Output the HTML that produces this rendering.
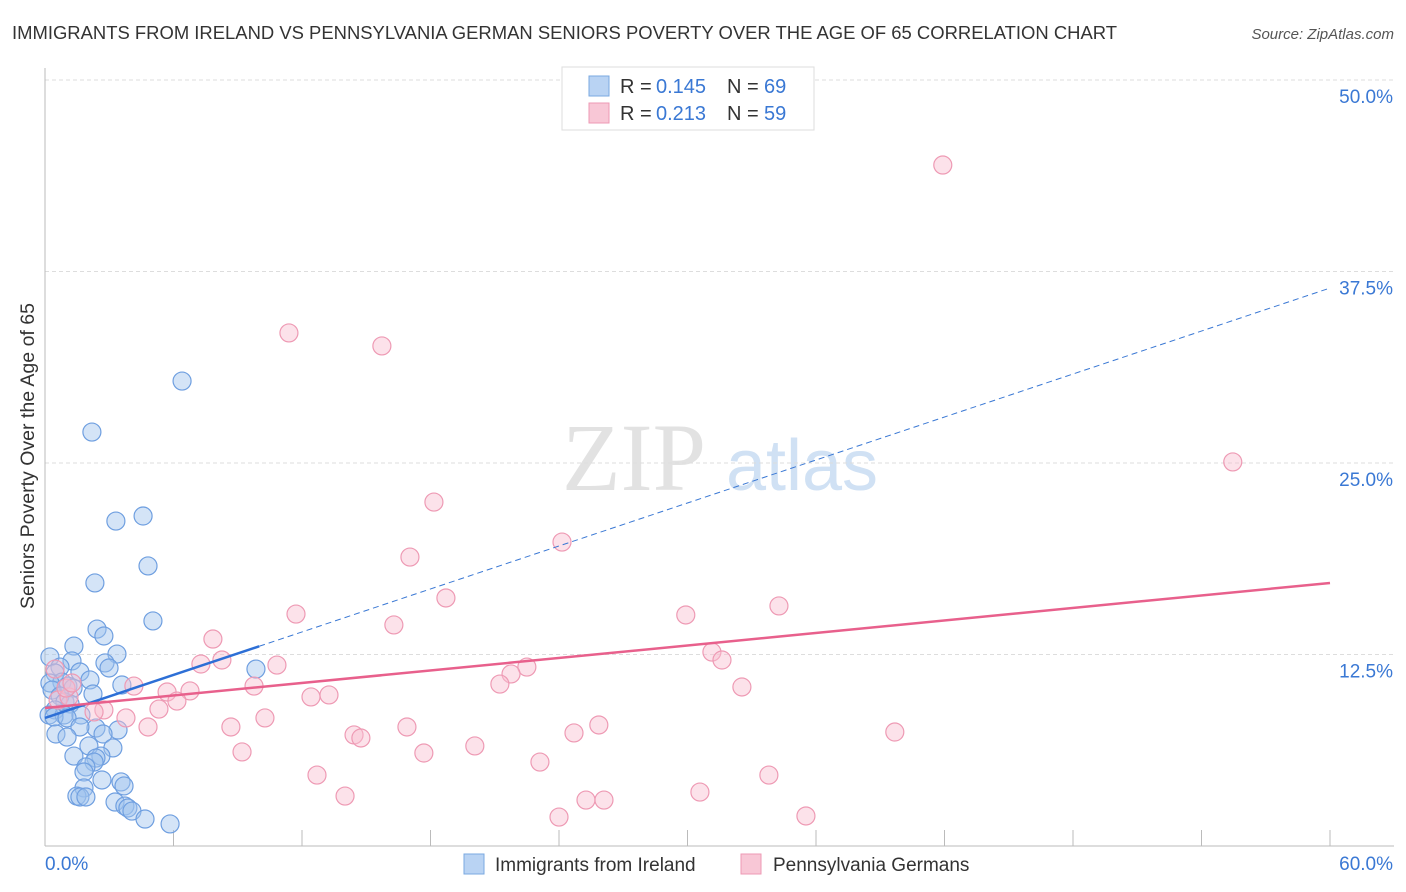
<!DOCTYPE html>
<html><head><meta charset="utf-8"><style>
body{margin:0;background:#fff;font-family:"Liberation Sans",sans-serif;}
svg{display:block}
</style></head><body>
<svg id="chart" width="1406" height="892">
<text x="12" y="39" font-size="18" fill="#333" textLength="1105" lengthAdjust="spacingAndGlyphs">IMMIGRANTS FROM IRELAND VS PENNSYLVANIA GERMAN SENIORS POVERTY OVER THE AGE OF 65 CORRELATION CHART</text>
<text x="1394" y="39" font-size="15" fill="#555" font-style="italic" text-anchor="end">Source: ZipAtlas.com</text>
<text x="634" y="490" font-size="96" fill="#e2e2e2" font-family="Liberation Serif,serif" text-anchor="middle">ZIP</text>
<text x="802" y="490" font-size="72" fill="#d0e1f4" text-anchor="middle">atlas</text>
<g id="grid"></g>
<g id="axes"></g>
<g id="marks"></g>
<text transform="translate(34,456) rotate(-90)" font-size="19" fill="#333" textLength="306" lengthAdjust="spacingAndGlyphs" text-anchor="middle">Seniors Poverty Over the Age of 65</text>
<g>
<rect x="562" y="67" width="252" height="63" fill="#fff" stroke="#ddd"/>
<rect x="589" y="76" width="20" height="20" fill="#b9d3f3" stroke="#7aa8e0"/>
<text y="93" font-size="20" fill="#333"><tspan x="620">R =</tspan><tspan x="656" fill="#3a78d4">0.145</tspan><tspan x="727">N =</tspan><tspan x="764" fill="#3a78d4">69</tspan></text>
<rect x="589" y="103" width="20" height="20" fill="#f8c7d6" stroke="#ee9ab4"/>
<text y="120" font-size="20" fill="#333"><tspan x="620">R =</tspan><tspan x="656" fill="#3a78d4">0.213</tspan><tspan x="727">N =</tspan><tspan x="764" fill="#3a78d4">59</tspan></text>
</g>
<g>
<rect x="464" y="854" width="20" height="20" fill="#b9d3f3" stroke="#7aa8e0"/>
<text x="495" y="871" font-size="19" fill="#333">Immigrants from Ireland</text>
<rect x="741" y="854" width="20" height="20" fill="#f8c7d6" stroke="#ee9ab4"/>
<text x="773" y="871" font-size="19" fill="#333">Pennsylvania Germans</text>
</g>
</svg>
<script>
const yTicks=[12.5,25,37.5,50];
const yTickLabels=["12.5%","25.0%","37.5%","50.0%"];
const xTicks=[0,6,12,18,24,30,36,42,48,54,60];
const blueX=[6.40,2.19,3.31,4.58,4.81,2.33,5.04,2.43,2.75,1.35,3.36,0.23,9.85,2.80,2.99,1.26,0.70,0.47,1.63,3.59,2.10,0.79,0.23,1.07,1.31,0.33,2.24,0.70,0.93,1.17,0.47,0.19,0.89,1.68,0.42,1.03,2.38,1.63,3.41,2.71,0.51,1.03,2.05,3.17,2.61,1.35,2.38,2.29,1.91,1.82,2.66,3.55,3.69,1.82,1.49,1.63,1.91,3.27,3.73,3.87,4.06,4.67,5.84];
const blueY=[30.35,27.02,21.21,21.54,18.28,17.17,14.69,14.16,13.71,13.05,12.53,12.34,11.55,11.95,11.62,12.08,11.68,11.29,11.36,10.51,10.84,10.70,10.64,10.44,10.31,10.18,9.92,9.79,9.40,9.27,8.88,8.55,8.55,8.55,8.42,8.36,7.70,7.77,7.57,7.31,7.31,7.11,6.53,6.40,5.87,5.87,5.74,5.48,5.16,4.83,4.31,4.18,3.92,3.79,3.26,3.20,3.20,2.87,2.61,2.48,2.28,1.76,1.44];
const pinkX=[41.92,11.39,15.73,55.46,18.16,24.14,17.04,18.72,34.27,11.72,29.92,16.29,7.84,31.14,8.26,7.28,31.61,10.83,22.50,21.76,21.24,32.54,9.76,4.15,5.70,6.77,13.26,12.42,6.16,0.61,1.12,2.75,2.29,5.32,3.78,10.27,4.81,8.68,25.86,16.90,24.70,39.68,14.43,14.75,20.07,9.20,17.69,23.11,12.70,33.80,14.01,30.58,25.26,26.10,24.00,35.53,0.47,0.98,1.26];
const pinkY=[44.45,33.49,32.64,25.07,22.45,19.84,18.86,16.19,15.67,15.14,15.08,14.43,13.51,12.66,12.14,11.88,12.14,11.81,11.68,11.23,10.57,10.38,10.44,10.44,10.05,10.12,9.86,9.73,9.46,9.53,9.73,8.88,8.75,8.94,8.36,8.36,7.77,7.77,7.90,7.77,7.38,7.44,7.25,7.05,6.53,6.14,6.07,5.48,4.63,4.63,3.26,3.52,3.00,3.00,1.89,1.96,11.55,10.31,10.64];
const blueTrend=[8.36,36.42];
const blueSolidEnd=10;
const pinkTrend=[9.01,17.17];
const X=v=>45+v*1285/60;
const Y=v=>846-v*15.32;
const NS="http://www.w3.org/2000/svg";
function mk(t,a,p){const e=document.createElementNS(NS,t);for(const k in a)e.setAttribute(k,a[k]);p.appendChild(e);return e;}
const grid=document.getElementById('grid'),axes=document.getElementById('axes'),marks=document.getElementById('marks');
yTicks.forEach((t,i)=>{
 const l=mk('line',{x1:45,x2:1394,y1:Y(t),y2:Y(t),stroke:'#ddd','stroke-dasharray':'4,3'},grid);
 
 
 const tx=mk('text',{x:1393,y:Y(t)+23,'font-size':19,fill:'#3a78d4','text-anchor':'end'},axes);
 tx.textContent=yTickLabels[i];
 
 
});
const ax=mk('line',{x1:45,x2:1394,y1:846,y2:846,stroke:'#bbb'},axes);


const ay=mk('line',{x1:45,x2:45,y1:68,y2:846,stroke:'#bbb'},axes);


xTicks.forEach(t=>{
 const l=mk('line',{x1:X(t),x2:X(t),y1:830,y2:846,stroke:'#bbb'},axes);
 
 
});
const xl0=mk('text',{x:45,y:870,'font-size':19,fill:'#3a78d4'},axes);xl0.textContent='0.0%';


const xl1=mk('text',{x:1393,y:870,'font-size':19,fill:'#3a78d4','text-anchor':'end'},axes);xl1.textContent='60.0%';


blueX.forEach((x,i)=>{
 const c=mk('circle',{cx:X(x),cy:Y(blueY[i]),r:9,fill:'rgba(160,196,238,0.45)',stroke:'#6f9fe0','stroke-width':1.2},marks);
 
 
});
pinkX.forEach((x,i)=>{
 const c=mk('circle',{cx:X(x),cy:Y(pinkY[i]),r:9,fill:'rgba(248,190,208,0.45)',stroke:'#ee9ab4','stroke-width':1.2},marks);
 
 
});
const bAt=x=>blueTrend[0]+(blueTrend[1]-blueTrend[0])*x/60;
const bd=mk('line',{x1:X(blueSolidEnd),y1:Y(bAt(blueSolidEnd)),x2:X(60),y2:Y(bAt(60)),stroke:'#3a78d4','stroke-width':1,'stroke-dasharray':'6,4'},marks);


const bs=mk('line',{x1:X(0),y1:Y(bAt(0)),x2:X(blueSolidEnd),y2:Y(bAt(blueSolidEnd)),stroke:'#2d6fd6','stroke-width':2.5},marks);


const ps=mk('line',{x1:X(0),y1:Y(pinkTrend[0]),x2:X(60),y2:Y(pinkTrend[1]),stroke:'#e8608c','stroke-width':2.5},marks);


</script>
</body></html>
